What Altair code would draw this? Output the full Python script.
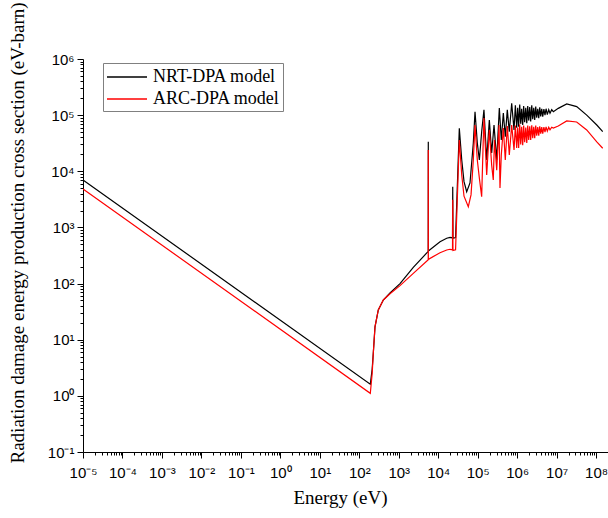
import json
import altair as alt
import pandas as pd

# ---------------- data ----------------
models = ["NRT-DPA model", "ARC-DPA model"]
colors = ["#000000", "#ff0000"]

nrt_energy = [1e-5, 190, 212, 226, 250, 303, 406, 600, 1075, 2335,
              5500, 5580, 5600, 5620, 1.11e4, 1.64e4, 1.99e4, 2.30e4, 2.33e4, 2.36e4,
              2.75e4, 3.42e4, 3.94e4, 4.5e4, 5.26e4, 6.38e4, 7.74e4, 8.55e4, 9.77e4, 1.10e5,
              1.26e5, 1.44e5, 1.69e5, 1.97e5, 2.26e5, 2.59e5, 3.03e5, 3.53e5, 3.96e5, 4.46e5,
              5.0e5, 5.62e5, 6.32e5, 7.26e5, 8.32e5, 9.0e5, 9.73e5, 1.03e6, 1.09e6, 1.16e6,
              1.23e6, 1.30e6, 1.38e6, 1.46e6, 1.55e6, 1.65e6, 1.75e6, 1.85e6, 1.96e6, 2.08e6,
              2.20e6, 2.34e6, 2.48e6, 2.63e6, 2.78e6, 2.95e6, 3.13e6, 3.32e6, 3.52e6, 3.73e6,
              3.95e6, 4.19e6, 4.44e6, 4.75e6, 5.07e6, 5.4e6, 5.8e6, 6.3e6, 6.79e6, 7.5e6,
              8.24e6, 1.10e7, 1.80e7, 3.22e7, 5.78e7, 1.04e8, 1.47e8]
nrt_value = [7000, 1.61, 3.0, 5.7, 17, 34, 51, 68, 100, 195,
             370, 375, 3.35e4, 380, 557, 641, 667, 650, 5.3e3, 640,
             660, 5.83e4, 1.59e4, 6.53e3, 4.33e3, 6.19e3, 3.19e4, 1.15e5, 3.19e4, 1.59e4,
             5.07e4, 1.24e5, 1.59e4, 8.2e4, 2.12e4, 6.68e4, 1.59e4, 1.34e5, 3.61e4, 1.09e5,
             4.13e4, 1.24e5, 5.07e4, 1.63e5, 5.44e4, 1.5e5, 6.0e4, 1.35e5, 6.2e4, 1.55e5,
             7.0e4, 1.3e5, 6.7e4, 1.45e5, 7.5e4, 1.35e5, 7.2e4, 1.45e5, 8.0e4, 1.4e5,
             7.7e4, 1.5e5, 8.5e4, 1.35e5, 8.2e4, 1.42e5, 9.0e4, 1.3e5, 8.8e4, 1.38e5,
             9.5e4, 1.3e5, 9.4e4, 1.28e5, 1.0e5, 1.3e5, 1.02e5, 1.25e5, 1.08e5, 1.25e5,
             1.15e5, 1.32e5, 1.58e5, 1.42e5, 1.0e5, 6.68e4, 5.07e4]

arc_energy = [1e-5, 190, 212, 226, 250, 303, 406, 600, 1075, 2335,
              5500, 5580, 5600, 5620, 1.11e4, 1.64e4, 1.99e4, 2.30e4, 2.33e4, 2.36e4,
              2.75e4, 3.42e4, 3.94e4, 4.5e4, 5.78e4, 6.77e4, 7.74e4, 8.55e4, 9.77e4, 1.10e5,
              1.26e5, 1.36e5, 1.44e5, 1.69e5, 1.97e5, 2.26e5, 2.48e5, 2.66e5, 3.03e5, 3.47e5,
              3.67e5, 3.96e5, 4.46e5, 5.0e5, 5.62e5, 6.32e5, 7.26e5, 8.32e5, 9.0e5, 9.73e5,
              1.03e6, 1.09e6, 1.16e6, 1.23e6, 1.30e6, 1.38e6, 1.46e6, 1.55e6, 1.65e6, 1.75e6,
              1.85e6, 1.96e6, 2.08e6, 2.20e6, 2.34e6, 2.48e6, 2.63e6, 2.78e6, 2.95e6, 3.13e6,
              3.32e6, 3.52e6, 3.73e6, 3.95e6, 4.19e6, 4.44e6, 4.75e6, 5.07e6, 5.4e6, 5.8e6,
              6.3e6, 6.79e6, 7.5e6, 8.24e6, 1.10e7, 1.80e7, 3.22e7, 5.78e7, 1.04e8, 1.47e8]
arc_value = [4840, 1.11, 2.5, 5.7, 17, 34, 51, 66, 92, 152,
             263, 265, 2.4e4, 270, 355, 396, 408, 400, 3.1e3, 390,
             400, 3.61e4, 8.6e3, 3.6e3, 2.34e3, 3.8e3, 1.59e4, 6.68e4, 1.59e4, 7.6e3,
             3.53e3, 2.4e4, 8.9e4, 8.6e3, 5.44e4, 1.29e4, 7.0e3, 3.61e4, 1.05e4, 6.68e4,
             5.04e3, 1.95e4, 5.9e4, 1.59e4, 6.41e4, 1.95e4, 6.68e4, 2.4e4, 6.5e4, 2.6e4,
             6.0e4, 2.6e4, 6.8e4, 3.0e4, 6.2e4, 2.9e4, 6.5e4, 3.3e4, 6.0e4, 3.2e4,
             6.5e4, 3.6e4, 6.3e4, 3.6e4, 6.6e4, 3.9e4, 6.2e4, 3.9e4, 6.5e4, 4.3e4,
             6.1e4, 4.3e4, 6.3e4, 4.7e4, 6.1e4, 4.7e4, 6.1e4, 5.0e4, 6.2e4, 5.2e4,
             6.1e4, 5.5e4, 6.1e4, 5.9e4, 6.41e4, 7.87e4, 7.55e4, 5.44e4, 3.33e4, 2.57e4]

x_decades = list(range(-5, 9))
x_tick_labels = ["10⁻⁵", "10⁻⁴", "10⁻³", "10⁻²", "10⁻¹", "10⁰", "10¹",
                 "10²", "10³", "10⁴", "10⁵", "10⁶", "10⁷", "10⁸"]
y_decades = list(range(-1, 7))
y_tick_labels = ["10⁻¹", "10⁰", "10¹", "10²", "10³", "10⁴", "10⁵", "10⁶"]

x_domain = [1e-5, 2e8]
y_domain = [0.1, 1e6]

# ---------------- build table ----------------
df = pd.concat([
    pd.DataFrame({"energy": nrt_energy, "value": nrt_value, "model": models[0]}),
    pd.DataFrame({"energy": arc_energy, "value": arc_value, "model": models[1]}),
], ignore_index=True)

x_ticks = [m * 10.0 ** k for k in x_decades for m in range(1, 10) if m * 10.0 ** k <= x_domain[1] * 1.0001]
y_ticks = [m * 10.0 ** k for k in y_decades for m in range(1, 10) if m * 10.0 ** k <= y_domain[1] * 1.0001]

LG = "log(datum.value)/LN10"
IS_MAJOR = f"abs({LG} - round({LG})) < 0.001"


def label_expr(labels, first):
    arr = json.dumps(labels, ensure_ascii=False)
    return f"{IS_MAJOR} ? {arr}[round({LG}) - ({first})] : ''"


tick_size = {"condition": {"test": IS_MAJOR, "value": 6}, "value": 3}

x_axis = alt.Axis(values=x_ticks, labelExpr=label_expr(x_tick_labels, x_decades[0]),
                  tickSize=tick_size, labelOverlap=False, labelFlush=False, labelBound=False,
                  labelFont="Liberation Sans", labelFontSize=15, labelPadding=7,
                  title="Energy (eV)", titleFont="Liberation Serif", titleFontSize=19,
                  titleFontWeight="normal", titleX=257, titleY=51, titleAlign="center",
                  titleBaseline="alphabetic")
y_axis = alt.Axis(values=y_ticks, labelExpr=label_expr(y_tick_labels, y_decades[0]),
                  tickSize=tick_size, labelOverlap=False, labelFlush=False, labelBound=False,
                  labelFont="Liberation Sans", labelFontSize=15, labelPadding=3,
                  title="Radiation damage energy production cross section (eV-barn)",
                  titleFont="Liberation Serif", titleFontSize=19, titleFontWeight="normal",
                  titleAngle=270, titleX=-60, titleY=404, titleAlign="left",
                  titleBaseline="alphabetic")

color = alt.Color("model:N",
                  scale=alt.Scale(domain=models, range=colors),
                  legend=alt.Legend(title=None, orient="none", legendX=20, legendY=4,
                                    symbolType="M-2,0H2", symbolSize=400, symbolStrokeWidth=1.5,
                                    symbolOffset=10, labelOffset=15,
                                    labelFont="Liberation Serif", labelFontSize=18,
                                    labelColor="black", strokeColor="#808080", fillColor="white",
                                    padding=3, rowPadding=2))

base = alt.Chart(df).mark_line(strokeWidth=1.2, clip=True).encode(
    x=alt.X("energy:Q", scale=alt.Scale(type="log", domain=x_domain, nice=False), axis=x_axis),
    y=alt.Y("value:Q", scale=alt.Scale(type="log", domain=y_domain, nice=False), axis=y_axis),
    color=color,
)

chart = alt.layer(
    base.transform_filter(alt.datum.model == models[0]),
    base.transform_filter(alt.datum.model == models[1]),
).properties(
    width=525, height=393,
    autosize=alt.AutoSizeParams(type="none"),
    padding={"left": 83, "top": 59, "right": 0, "bottom": 66},
    background="white",
).configure_view(stroke=None).configure_axis(
    grid=False, domainColor="black", tickColor="black", labelColor="black",
    titleColor="black", domainWidth=1, tickWidth=1,
)

chart.save("out.html", embed_options={"renderer": "svg", "actions": False})
